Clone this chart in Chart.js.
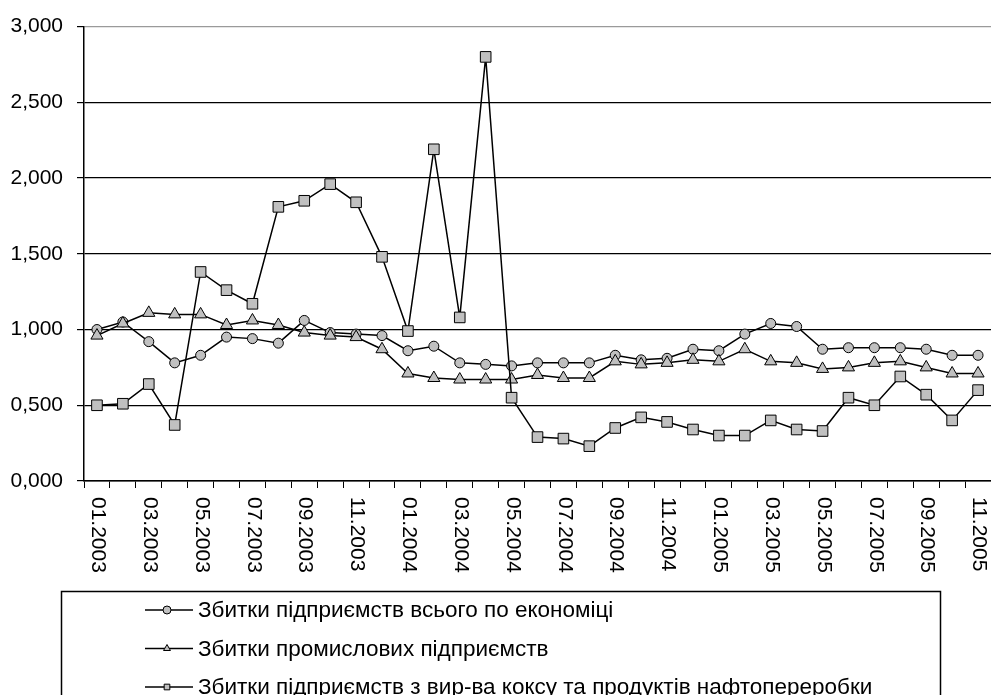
<!DOCTYPE html>
<html>
<head>
<meta charset="utf-8">
<script src="https://cdn.jsdelivr.net/npm/chart.js@4.4.0/dist/chart.umd.min.js"></script>
<style>
html, body { margin: 0; padding: 0; background: #fff; }
#box { position: relative; width: 991px; height: 695px; }
</style>
</head>
<body>
<div id="box"><canvas id="grafico_збитки"></canvas></div>
<script>
// місяці 01.2003 - 11.2005
const mesi = [
    '01.2003','02.2003','03.2003','04.2003','05.2003','06.2003','07.2003','08.2003','09.2003','10.2003','11.2003','12.2003',
    '01.2004','02.2004','03.2004','04.2004','05.2004','06.2004','07.2004','08.2004','09.2004','10.2004','11.2004','12.2004',
    '01.2005','02.2005','03.2005','04.2005','05.2005','06.2005','07.2005','08.2005','09.2005','10.2005','11.2005'
];
const tickY = [0, 0.5, 1, 1.5, 2, 2.5, 3];

const nomiSerie = [
    'Збитки підприємств всього по економіці',
    'Збитки промислових підприємств',
    'Збитки підприємств з вир-ва коксу та продуктів нафтопереробки'
];
const economia = [1.00,1.05,0.92,0.78,0.83,0.95,0.94,0.91,1.06,0.98,0.97,0.96,0.86,0.89,0.78,0.77,0.76,0.78,0.78,0.78,0.83,0.80,0.81,0.87,0.86,0.97,1.04,1.02,0.87,0.88,0.88,0.88,0.87,0.83,0.83];
const industria = [0.96,1.04,1.11,1.10,1.10,1.03,1.06,1.03,0.98,0.96,0.95,0.87,0.71,0.68,0.67,0.67,0.67,0.70,0.68,0.68,0.79,0.77,0.78,0.80,0.79,0.87,0.79,0.78,0.74,0.75,0.78,0.79,0.75,0.71,0.71];
const koks = [0.50,0.51,0.64,0.37,1.38,1.26,1.17,1.81,1.85,1.96,1.84,1.48,0.99,2.19,1.08,2.80,0.55,0.29,0.28,0.23,0.35,0.42,0.39,0.34,0.30,0.30,0.40,0.34,0.33,0.55,0.50,0.69,0.57,0.40,0.60];

const FONT = '"Liberation Sans", Arial, sans-serif';

function serie(label, data, stile, raggio, ordine){
    return {
        label: label,
        data: data,
        borderColor: '#000',
        borderWidth: 1.5,
        pointStyle: stile,
        pointRadius: raggio,
        pointHoverRadius: raggio,
        pointBackgroundColor: '#c0c0c0',
        pointBorderColor: '#000',
        pointBorderWidth: 1,
        tension: 0,
        order: ordine
    };
}

// etichette asse x ruotate e legenda in riquadro
const disegnaExtra = {
    id: 'disegnaExtra',
    afterDraw(chart){
        const ctx = chart.ctx;
        const sx = chart.scales.x;
        ctx.save();
        ctx.fillStyle = '#000';
        ctx.font = '21px ' + FONT;
        ctx.textAlign = 'left';
        ctx.textBaseline = 'middle';
        mesi.forEach((m, i) => {
            if(i % 2) return;
            const x = sx.getPixelForValue(i) + 1;
            ctx.save();
            ctx.translate(x, sx.top + 16);
            ctx.rotate(Math.PI / 2);
            ctx.fillText(m, 0, 0);
            ctx.restore();
        });

        ctx.strokeStyle = '#000';
        ctx.lineWidth = 1.5;
        ctx.strokeRect(61.5, 591.5, 879, 130);

        ctx.font = '22.5px ' + FONT;
        chart.data.datasets.forEach((ds, i) => {
            const y = 610 + i * 38.5;
            ctx.beginPath();
            ctx.moveTo(145, y);
            ctx.lineTo(193, y);
            ctx.lineWidth = 1.5;
            ctx.strokeStyle = '#000';
            ctx.stroke();
            ctx.fillStyle = '#c0c0c0';
            ctx.lineWidth = 1;
            Chart.helpers.drawPoint(ctx, { pointStyle: ds.pointStyle, radius: 4, borderWidth: 1 }, 167, y);
            ctx.fillStyle = '#000';
            ctx.fillText(ds.label, 198, y + 1);
        });
        ctx.restore();
    }
};

const canvas = document.getElementById('grafico_збитки');
new Chart(canvas.getContext('2d'), {
    type: 'line',
    data: {
        labels: mesi,
        datasets: [
            serie(nomiSerie[0], economia, 'circle', 5, 3),
            serie(nomiSerie[1], industria, 'triangle', 7, 2),
            serie(nomiSerie[2], koks, 'rect', 7.5, 1)
        ]
    },
    options: {
        responsive: true,
        maintainAspectRatio: false,
        animation: false,
        layout: { autoPadding: false, padding: { top: 23, left: 0, right: 0, bottom: 0 } },
        scales: {
            x: {
                offset: true,
                grid: { offset: true, drawOnChartArea: false, drawTicks: true, tickLength: 7, color: '#000', lineWidth: 1 },
                border: { color: '#000', width: 1.5 },
                ticks: { display: false },
                afterFit(s){ s.height = 214; }
            },
            y: {
                min: 0,
                max: 3,
                afterBuildTicks(s){ s.ticks = tickY.map(v => ({ value: v })); },
                ticks: {
                    color: '#000',
                    padding: 14,
                    font: { family: FONT, size: 21 },
                    callback: v => v.toFixed(3).replace('.', ',')
                },
                grid: {
                    color: c => (c.tick && c.tick.value === 3) ? '#9a9a9a' : '#000',
                    tickColor: '#000',
                    tickLength: 7,
                    lineWidth: 1.2
                },
                border: { color: '#000', width: 1.5 },
                afterFit(s){ s.width = 84; }
            }
        },
        plugins: {
            legend: { display: false },
            tooltip: { enabled: false }
        }
    },
    plugins: [disegnaExtra]
});
</script>
</body>
</html>
